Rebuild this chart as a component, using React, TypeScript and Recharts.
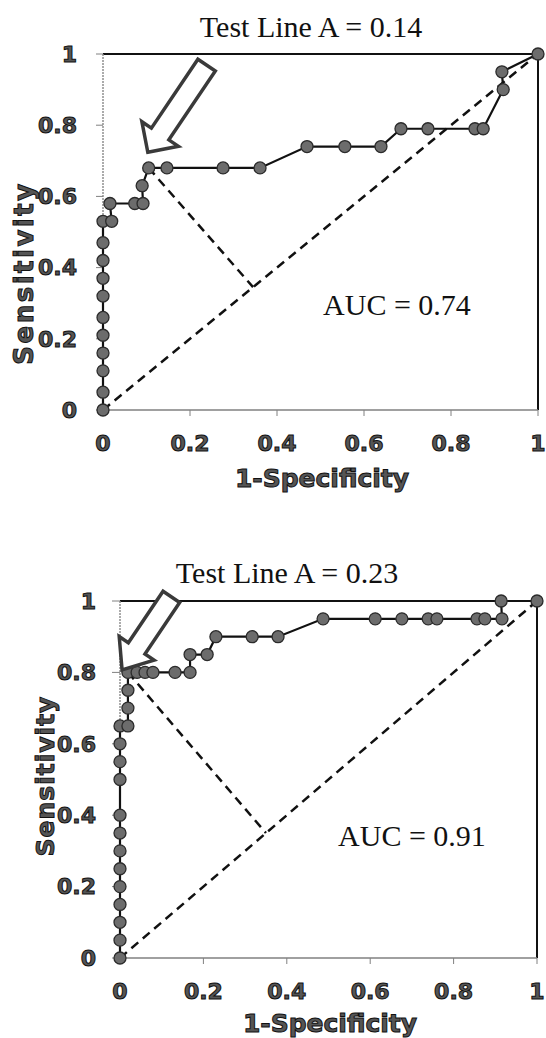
import { ScatterChart, Scatter, XAxis, YAxis, ReferenceLine } from 'recharts';

// axis ticks shared by both panels
const axisTicks = [0, 0.2, 0.4, 0.6, 0.8, 1];

// panel A (Test Line A = 0.14)
const fprA = [0, 0, 0, 0, 0, 0, 0, 0, 0, 0, 0, 0.02, 0.016, 0.073, 0.092, 0.09, 0.105, 0.147, 0.276, 0.361, 0.469, 0.556, 0.639, 0.685, 0.747, 0.855, 0.874, 0.92, 0.917, 1];
const tprA = [0, 0.05, 0.11, 0.16, 0.21, 0.26, 0.32, 0.37, 0.42, 0.47, 0.53, 0.53, 0.58, 0.58, 0.58, 0.63, 0.68, 0.68, 0.68, 0.68, 0.74, 0.74, 0.74, 0.79, 0.79, 0.79, 0.79, 0.9, 0.95, 1];
const cutoffA = { x: 0.105, y: 0.68 };
const footA = { x: 0.345, y: 0.345 };
const arrowTipA = [{ x: 0.103, y: 0.724 }];

// panel B (Test Line A = 0.23)
const fprB = [0, 0, 0, 0, 0, 0, 0, 0, 0, 0, 0, 0, 0, 0.019, 0.019, 0.019, 0.019, 0.041, 0.06, 0.079, 0.132, 0.168, 0.168, 0.209, 0.23, 0.317, 0.379, 0.487, 0.612, 0.676, 0.739, 0.76, 0.856, 0.875, 0.916, 0.914, 1];
const tprB = [0, 0.05, 0.1, 0.15, 0.2, 0.25, 0.3, 0.35, 0.4, 0.5, 0.55, 0.6, 0.65, 0.65, 0.7, 0.75, 0.8, 0.8, 0.8, 0.8, 0.8, 0.8, 0.85, 0.85, 0.9, 0.9, 0.9, 0.95, 0.95, 0.95, 0.95, 0.95, 0.95, 0.95, 0.95, 1, 1];
const cutoffB = { x: 0.019, y: 0.8 };
const footB = { x: 0.35, y: 0.35 };
const arrowTipB = [{ x: 0.005, y: 0.807 }];

const toPoints = (xs: number[], ys: number[]) => xs.map((x, i) => ({ x, y: ys[i] }));

const sansBold = {
  fontFamily: 'DejaVu Sans',
  fontWeight: 700,
  fill: '#555',
  stroke: '#111',
  strokeWidth: 1,
};

const RocDot = (props: any) => (
  <circle cx={props.cx} cy={props.cy} r={6} fill="#6c6c6c" stroke="#2b2b2b" strokeWidth={1.3} />
);

// hollow block arrow, tip at the data point, pointing down-left
const makeArrow = (len: number, headLen: number, headHalf: number, shaftHalf: number) => (props: any) => {
  const { cx, cy } = props;
  const ux = 0.56, uy = -0.83;
  const nx = 0.83, ny = 0.56;
  const bx = cx + ux * headLen, by = cy + uy * headLen;
  const tx = cx + ux * len, ty = cy + uy * len;
  const pts = [
    [cx, cy],
    [bx + nx * headHalf, by + ny * headHalf],
    [bx + nx * shaftHalf, by + ny * shaftHalf],
    [tx + nx * shaftHalf, ty + ny * shaftHalf],
    [tx - nx * shaftHalf, ty - ny * shaftHalf],
    [bx - nx * shaftHalf, by - ny * shaftHalf],
    [bx - nx * headHalf, by - ny * headHalf],
  ];
  return (
    <polygon
      points={pts.map((p) => p.join(',')).join(' ')}
      fill="#fff"
      stroke="#3a3a3a"
      strokeWidth={3.5}
      strokeLinejoin="miter"
    />
  );
};

interface PanelProps {
  title: string;
  auc: string;
  fpr: number[];
  tpr: number[];
  cutoff: { x: number; y: number };
  foot: { x: number; y: number };
  arrowTip: { x: number; y: number }[];
  arrowShape: (p: any) => any;
  margin: { top: number; right: number; bottom: number; left: number };
  yAxisWidth: number;
  yTickSize: number;
  yTickMargin: number;
  titlePos: [number, number];
  aucPos: [number, number];
  xLabelPos: [number, number];
  yLabelPos: [number, number];
  yLabelSize: number;
  yLabelSpacing: number;
}

function RocPanel(p: PanelProps) {
  const data = toPoints(p.fpr, p.tpr);
  return (
    <ScatterChart width={546} height={519} margin={p.margin}>
      <XAxis
        type="number"
        dataKey="x"
        domain={[0, 1]}
        ticks={axisTicks}
        interval={0}
        tickSize={6}
        tickMargin={19}
        height={60}
        axisLine={{ stroke: '#808080', strokeWidth: 1.5 }}
        tickLine={{ stroke: '#808080' }}
        tick={{ ...sansBold, fontSize: 22 }}
      />
      <YAxis
        type="number"
        dataKey="y"
        domain={[0, 1]}
        ticks={axisTicks}
        interval={0}
        width={p.yAxisWidth}
        tickSize={p.yTickSize}
        tickMargin={p.yTickMargin}
        axisLine={{ stroke: '#909090', strokeWidth: 1.5, strokeDasharray: '2 1' }}
        tickLine={{ stroke: '#808080' }}
        tick={{ ...sansBold, fontSize: 22 }}
      />
      <ReferenceLine y={1} stroke="#111" strokeWidth={2} />
      <ReferenceLine x={1} stroke="#111" strokeWidth={2} />
      <ReferenceLine
        segment={[{ x: 0, y: 0 }, { x: 1, y: 1 }]}
        stroke="#111"
        strokeWidth={2.5}
        strokeDasharray="9 6"
      />
      <ReferenceLine segment={[p.cutoff, p.foot]} stroke="#111" strokeWidth={2.5} strokeDasharray="9 6" />
      <Scatter
        data={data}
        line={{ stroke: '#111', strokeWidth: 2.2 }}
        lineType="joint"
        shape={RocDot}
        isAnimationActive={false}
      />
      <Scatter data={p.arrowTip} shape={p.arrowShape} isAnimationActive={false} />
      <text
        x={p.titlePos[0]}
        y={p.titlePos[1]}
        textAnchor="middle"
        fontFamily="Liberation Serif"
        fontSize={30}
        fill="#111"
      >
        {p.title}
      </text>
      <text
        x={p.aucPos[0]}
        y={p.aucPos[1]}
        textAnchor="middle"
        fontFamily="Liberation Serif"
        fontSize={30}
        fill="#111"
      >
        {p.auc}
      </text>
      <text x={p.xLabelPos[0]} y={p.xLabelPos[1]} textAnchor="middle" {...sansBold} fontSize={25}>
        1-Specificity
      </text>
      <text
        x={p.yLabelPos[0]}
        y={p.yLabelPos[1]}
        textAnchor="middle"
        dominantBaseline="central"
        transform={`rotate(-90 ${p.yLabelPos[0]} ${p.yLabelPos[1]})`}
        {...sansBold}
        fontSize={p.yLabelSize}
        letterSpacing={p.yLabelSpacing}
      >
        Sensitivity
      </text>
    </ScatterChart>
  );
}

export default function App() {
  return (
    <div style={{ position: 'absolute', left: 0, top: 0, width: 546, height: 1038, background: '#fff' }}>
      <div style={{ position: 'absolute', left: 0, top: 0 }}>
        <RocPanel
          title="Test Line A = 0.14"
          auc="AUC = 0.74"
          fpr={fprA}
          tpr={tprA}
          cutoff={cutoffA}
          foot={footA}
          arrowTip={arrowTipA}
          arrowShape={makeArrow(105, 22, 22, 10.5)}
          margin={{ top: 54, right: 8, bottom: 49, left: 0 }}
          yAxisWidth={103}
          yTickSize={7}
          yTickMargin={19}
          titlePos={[311, 37]}
          aucPos={[397, 315]}
          xLabelPos={[322, 487]}
          yLabelPos={[24, 273]}
          yLabelSize={26}
          yLabelSpacing={2.5}
        />
      </div>
      <div style={{ position: 'absolute', left: 0, top: 519 }}>
        <RocPanel
          title="Test Line A = 0.23"
          auc="AUC = 0.91"
          fpr={fprB}
          tpr={tprB}
          cutoff={cutoffB}
          foot={footB}
          arrowTip={arrowTipB}
          arrowShape={makeArrow(88, 26, 21, 10)}
          margin={{ top: 82, right: 9, bottom: 20, left: 0 }}
          yAxisWidth={120}
          yTickSize={8}
          yTickMargin={16}
          titlePos={[287, 64]}
          aucPos={[412, 327]}
          xLabelPos={[330, 513]}
          yLabelPos={[45, 257]}
          yLabelSize={25}
          yLabelSpacing={1}
        />
      </div>
    </div>
  );
}
